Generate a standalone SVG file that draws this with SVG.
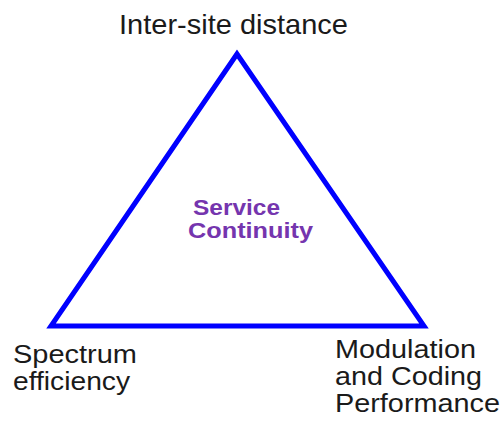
<svg xmlns="http://www.w3.org/2000/svg" width="502" height="424" viewBox="0 0 502 424">
<style>
.lbl{font-family:"Liberation Sans",Arial,sans-serif;font-size:25px;fill:#1a1a1a}
.ctr{font-family:"Liberation Sans",Arial,sans-serif;font-size:22px;font-weight:bold;fill:#7535AE}
.tri{fill:none;stroke:#0000FF;stroke-width:5;stroke-linejoin:miter}
</style>
<rect width="502" height="424" fill="#ffffff"/>
<g id="connectors">
<polygon class="tri" points="237,54 51,326 424,326"/>
</g>
<g id="node-intersite">
<text class="lbl" x="119" y="34" style="font-size:28px" textLength="229" lengthAdjust="spacingAndGlyphs">Inter-site distance</text>
</g>
<g id="node-center">
<text class="ctr" x="193" y="215" textLength="87" lengthAdjust="spacingAndGlyphs">Service</text>
<text class="ctr" x="188" y="238" textLength="125" lengthAdjust="spacingAndGlyphs">Continuity</text>
</g>
<g id="node-spectrum">
<text class="lbl" x="13" y="363" textLength="124" lengthAdjust="spacingAndGlyphs">Spectrum</text>
<text class="lbl" x="13" y="390" textLength="117" lengthAdjust="spacingAndGlyphs">efficiency</text>
</g>
<g id="node-modulation">
<text class="lbl" x="335" y="358" textLength="141" lengthAdjust="spacingAndGlyphs">Modulation</text>
<text class="lbl" x="335" y="385" textLength="147" lengthAdjust="spacingAndGlyphs">and Coding</text>
<text class="lbl" x="335" y="412" textLength="165" lengthAdjust="spacingAndGlyphs">Performance</text>
</g>
</svg>
